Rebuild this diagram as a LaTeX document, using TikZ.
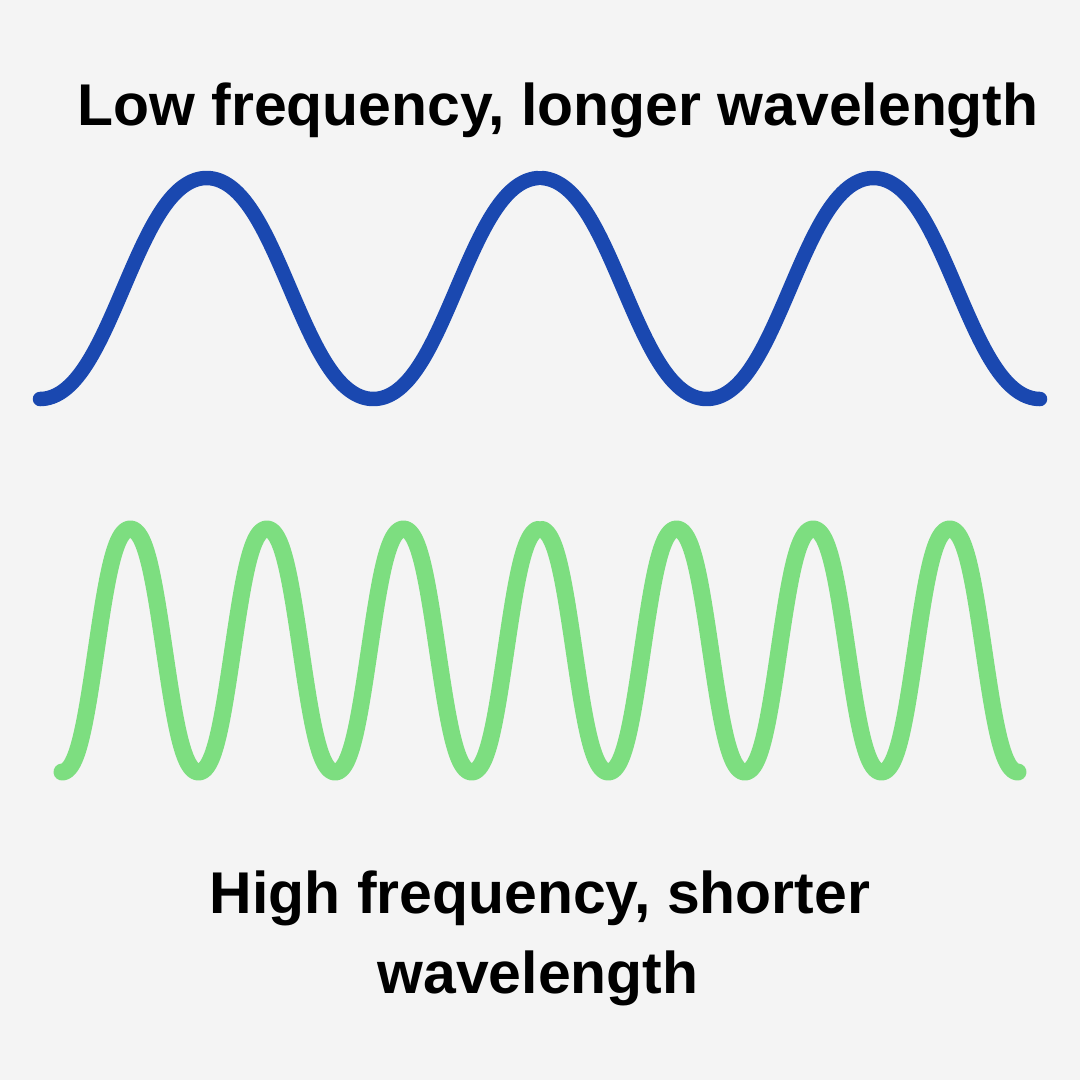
\documentclass[tikz,border=0pt]{standalone}
\usepackage{fontspec}
\setmainfont{Liberation Sans}
\definecolor{bg}{HTML}{F4F4F4}
\definecolor{wblue}{HTML}{1A48B0}
\definecolor{wgreen}{HTML}{7DDE80}
\begin{document}
\begin{tikzpicture}[x=1pt,y=-1pt,
  bluewave/.style={line width=14.5pt,line cap=round,line join=round,wblue},
  greenwave/.style={line width=17pt,line cap=round,line join=round,wgreen},
  lbl/.style={anchor=base,inner sep=0pt,font=\fontsize{58.9}{70}\selectfont\bfseries}]
\fill[bg] (0,0) rectangle (1080,1080);
\useasboundingbox (0,0) rectangle (1080,1080);
% low frequency wave
\draw[bluewave] plot[domain=40:537.5,samples=250,smooth]
  (\x,{288.5+110.5*(cos(1.08*(\x-40))-0.03*cos(3.24*(\x-40)))/0.97});
\draw[bluewave] plot[domain=542.5:1040,samples=250,smooth]
  (\x,{288.5+110.5*(cos(1.08*(\x-40))-0.03*cos(3.24*(\x-40)))/0.97});
% high frequency wave (slightly square-ish)
\draw[greenwave] plot[domain=62:537.5,samples=400,smooth]
  (\x,{650.5+121.5*(cos(2.63598*(\x-62))-0.05*cos(7.90794*(\x-62)))/0.95});
\draw[greenwave] plot[domain=542.5:1018,samples=400,smooth]
  (\x,{650.5+121.5*(cos(2.63598*(\x-62))-0.05*cos(7.90794*(\x-62)))/0.95});
\node[lbl] (t1) at (558,125) {Low frequency, longer wavelength};
\node[lbl] (t2) at (540,913) {High frequency, shorter};
\node[lbl] (t3) at (538,993) {wavelength};
\end{tikzpicture}
\end{document}
